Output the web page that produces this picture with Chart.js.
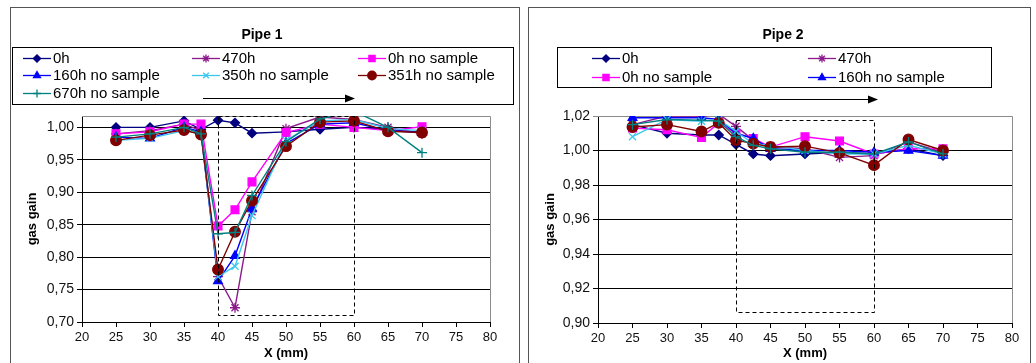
<!DOCTYPE html>
<html>
<head>
<meta charset="utf-8">
<script src="https://cdn.jsdelivr.net/npm/chart.js@4/dist/chart.umd.min.js"></script>
<style>
  body { margin: 0; background: #fff; width: 1036px; height: 363px; overflow: hidden; position: relative; }
  .panel { position: absolute; top: 7px; height: 380px; border: 1px solid #555; box-sizing: border-box; background: #fff; }
  #p1 { left: 10px; width: 510px; }
  #p2 { left: 528px; width: 503px; }
  canvas { position: absolute; left: 0; top: 0; }
</style>
</head>
<body>
<div class="panel" id="p1"><canvas id="c1" width="508" height="355"></canvas></div>
<div class="panel" id="p2"><canvas id="c2" width="501" height="355"></canvas></div>
<script>
// Measurement positions along the pipe (mm)
const positions = [25, 30, 35, 37.5, 40, 42.5, 45, 50, 55, 60, 65, 70];
const xTicks = [20, 25, 30, 35, 40, 45, 50, 55, 60, 65, 70, 75, 80];

const seriesNames = ['0h', '470h', '0h no sample', '160h no sample', '350h no sample', '351h no sample', '670h no sample'];

// Pipe 1 gas gain
const pipe1_0h    = [1.000, 1.000, 1.010, 0.997, 1.011, 1.007, 0.991, 0.993, 0.997, 1.000, 0.997, 0.992];
const pipe1_470h  = [0.990, 0.995, 1.005, 0.995, 0.770, 0.722, 0.870, 0.998, 1.016, 1.012, 1.000, 0.990];
const pipe1_0hNS  = [0.990, 0.993, 1.005, 1.005, 0.848, 0.873, 0.916, 0.992, 1.005, 1.000, 0.995, 1.001];
const pipe1_160hNS = [0.985, 0.983, 1.000, 0.993, 0.763, 0.802, 0.875, 0.975, 1.005, 1.007, 0.995, 0.992];
const pipe1_350hNS = [0.980, 0.983, 0.995, 0.990, 0.770, 0.786, 0.864, 0.980, 1.010, 1.012, 0.998, 0.995];
const pipe1_351hNS = [0.980, 0.988, 0.996, 0.989, 0.781, 0.839, 0.887, 0.971, 1.008, 1.010, 0.994, 0.992];
const pipe1_670hNS = [0.985, 0.990, 1.000, 0.990, 0.836, 0.838, 0.895, 0.978, 1.013, 1.025, 1.000, 0.961];

// Pipe 2 gas gain
const pipe2_0h    = [1.015, 1.010, 1.009, 1.009, 1.0035, 0.998, 0.997, 0.998, 0.999, 0.998, 1.001, 0.997];
const pipe2_470h  = [1.015, 1.020, 1.020, 1.021, 1.014, 1.006, 1.002, 1.001, 0.996, 0.997, 1.005, 0.999];
const pipe2_0hNS  = [1.013, 1.012, 1.0075, 1.016, 1.010, 1.007, 1.002, 1.008, 1.0055, 0.998, 1.001, 1.001];
const pipe2_160hNS = [1.019, 1.019, 1.019, 1.018, 1.010, 1.007, 1.001, 1.000, 1.000, 0.999, 1.000, 0.997];
const pipe2_350hNS = [1.008, 1.018, 1.017, 1.018, 1.011, 1.004, 1.003, 1.000, 0.998, 0.998, 1.003, 0.998];
const pipe2_351hNS = [1.0136, 1.015, 1.011, 1.016, 1.006, 1.004, 1.002, 1.0025, 0.9986, 0.9915, 1.0064, 1.000];
const pipe2_670hNS = [1.015, 1.018, 1.0175, 1.017, 1.008, 1.003, 1.001, 0.999, 0.999, 0.998, 1.005, 0.998];

// Inspected region [xFrom, xTo, yFrom, yTo]
const pipe1Region = [40, 60, 0.711, 1.0175];
const pipe2Region = [40, 60, 0.9064, 1.0177];

// Axis ranges [min, max, step]
const pipe1YRange = [0.70, 1.0175, 0.05];
const pipe2YRange = [0.90, 1.02, 0.02];

const styles = [
  { color: '#000080', pointStyle: 'rectRot', radius: 4.5 },
  { color: '#8b1a8b', pointStyle: 'star', radius: 5 },
  { color: '#ff00ff', pointStyle: 'rect', radius: 5.5 },
  { color: '#0000ff', pointStyle: 'triangle', radius: 5 },
  { color: '#3cc8ee', pointStyle: 'crossRot', radius: 5 },
  { color: '#800000', pointStyle: 'circle', radius: 5.3 },
  { color: '#008080', pointStyle: 'cross', radius: 5 }
];

const FONT = '"Liberation Sans", Arial, sans-serif';

function makeDatasets(seriesList) {
  return seriesList.map((vals, i) => ({
    label: seriesNames[i],
    data: positions.map((p, k) => ({ x: p, y: vals[k] })),
    borderColor: styles[i].color,
    backgroundColor: styles[i].color,
    pointBackgroundColor: styles[i].color,
    pointBorderColor: styles[i].color,
    pointStyle: styles[i].pointStyle,
    pointRadius: styles[i].radius,
    pointBorderWidth: 1.3,
    borderWidth: 1.4,
    tension: 0,
    order: seriesList.length - i
  }));
}

const panelDecor = {
  id: 'panelDecor',
  beforeDatasetsDraw(chart) {
    const { ctx, chartArea: a } = chart;
    ctx.save();
    ctx.strokeStyle = '#8c8c8c';
    ctx.lineWidth = 1;
    ctx.beginPath();
    ctx.moveTo(a.left, Math.round(a.top) + 0.5);
    ctx.lineTo(Math.round(a.right) + 0.5, Math.round(a.top) + 0.5);
    ctx.lineTo(Math.round(a.right) + 0.5, a.bottom);
    ctx.stroke();
    ctx.restore();
  },
  afterDatasetsDraw(chart, args, opts) {
    const { ctx, scales: { x, y } } = chart;
    const r = opts.region;
    const x0 = Math.round(x.getPixelForValue(r[0])) + 0.5;
    const x1 = Math.round(x.getPixelForValue(r[1])) + 0.5;
    const y0 = Math.round(y.getPixelForValue(r[2])) + 0.5;
    const y1 = Math.round(y.getPixelForValue(r[3])) + 0.5;
    ctx.save();
    ctx.setLineDash([4, 3]);
    ctx.strokeStyle = '#000';
    ctx.lineWidth = 1;
    ctx.strokeRect(x0, y1, x1 - x0, y0 - y1);
    ctx.restore();
  },
  afterDraw(chart, args, opts) {
    const ctx = chart.ctx;
    ctx.save();
    // chart title
    ctx.fillStyle = '#000';
    ctx.font = 'bold 14px ' + FONT;
    ctx.textAlign = 'center';
    ctx.textBaseline = 'middle';
    ctx.fillText(opts.title, opts.titleX, opts.titleY);

    // legend frame
    const b = opts.legendBox;
    ctx.strokeStyle = '#000';
    ctx.lineWidth = 1;
    ctx.strokeRect(b[0] + 0.5, b[1] + 0.5, b[2] - b[0], b[3] - b[1]);

    // legend entries
    ctx.font = '15px ' + FONT;
    ctx.textAlign = 'left';
    const helpers = Chart.helpers;
    opts.legendItems.forEach((idx, n) => {
      const col = n % opts.legendCols.length;
      const row = Math.floor(n / opts.legendCols.length);
      const lx = opts.legendCols[col];
      const ly = opts.legendRows[row];
      const st = styles[idx];
      ctx.strokeStyle = st.color;
      ctx.fillStyle = st.color;
      ctx.lineWidth = 1.3;
      ctx.beginPath();
      ctx.moveTo(lx, ly + 0.5);
      ctx.lineTo(lx + 28, ly + 0.5);
      ctx.stroke();
      if (helpers && helpers.drawPoint) {
        helpers.drawPoint(ctx, { pointStyle: st.pointStyle, radius: st.radius * 0.8, borderWidth: 1.2, rotation: 0 }, lx + 14, ly + 0.5);
      }
      ctx.fillStyle = '#000';
      ctx.fillText(seriesNames[idx], lx + 30, ly + 1);
    });

    // direction arrow
    const ar = opts.arrow;
    ctx.strokeStyle = '#000';
    ctx.fillStyle = '#000';
    ctx.lineWidth = 1.2;
    ctx.beginPath();
    ctx.moveTo(ar[0], ar[2] + 0.5);
    ctx.lineTo(ar[1] - 8, ar[2] + 0.5);
    ctx.stroke();
    ctx.beginPath();
    ctx.moveTo(ar[1], ar[2] + 0.5);
    ctx.lineTo(ar[1] - 10, ar[2] - 3.5);
    ctx.lineTo(ar[1] - 10, ar[2] + 4.5);
    ctx.closePath();
    ctx.fill();
    ctx.restore();
  }
};

function makeChart(canvasId, seriesList, yRange, decor, layoutRight, xHeight, yWidth) {
  const [yMin, yMax, yStep] = yRange;
  return new Chart(document.getElementById(canvasId), {
    type: 'line',
    data: { datasets: makeDatasets(seriesList) },
    plugins: [panelDecor],
    options: {
      responsive: false,
      animation: false,
      events: [],
      layout: { padding: { top: 108, right: layoutRight, left: 0, bottom: 0 } },
      plugins: {
        legend: { display: false },
        title: { display: false },
        tooltip: { enabled: false },
        panelDecor: decor
      },
      scales: {
        x: {
          type: 'linear',
          min: xTicks[0],
          max: xTicks[xTicks.length - 1],
          afterBuildTicks: s => { s.ticks = xTicks.map(v => ({ value: v })); },
          afterFit: s => { s.height = xHeight; },
          grid: { drawOnChartArea: false, drawTicks: true, tickLength: 5, color: '#000', lineWidth: 1 },
          border: { display: true, color: '#000', width: 1 },
          ticks: { color: '#111', font: { size: 13, family: FONT }, padding: 3, maxRotation: 0, autoSkip: false },
          title: { display: true, text: 'X (mm)', color: '#000', font: { size: 13, weight: 'bold', family: FONT }, padding: { top: 0, bottom: 2 } }
        },
        y: {
          type: 'linear',
          min: yMin,
          max: yMax,
          afterBuildTicks: s => {
            const ticks = [];
            for (let v = yMin; v <= yMax + 1e-9; v += yStep) ticks.push({ value: Math.round(v * 1000) / 1000 });
            s.ticks = ticks;
          },
          afterFit: s => { s.width = yWidth; },
          grid: {
            drawTicks: true,
            tickLength: 5,
            lineWidth: 1,
            color: c => (c.tick && Math.abs(c.tick.value - yMax) < 1e-6) ? '#8c8c8c' : '#000'
          },
          border: { display: true, color: '#000', width: 1 },
          ticks: {
            color: '#111',
            font: { size: 14, family: FONT },
            padding: 3,
            callback: v => v.toFixed(2).replace('.', ',')
          },
          title: { display: true, text: 'gas gain', color: '#000', font: { size: 13, weight: 'bold', family: FONT }, padding: { top: 14, bottom: 0 } }
        }
      }
    }
  });
}

makeChart('c1',
  [pipe1_0h, pipe1_470h, pipe1_0hNS, pipe1_160hNS, pipe1_350hNS, pipe1_351hNS, pipe1_670hNS],
  pipe1YRange,
  {
    title: 'Pipe 1', titleX: 251, titleY: 27,
    legendBox: [1, 39, 502, 96],
    legendCols: [12, 181, 347],
    legendRows: [50, 67, 85],
    legendItems: [0, 1, 2, 3, 4, 5, 6],
    arrow: [192, 344, 90],
    region: pipe1Region
  },
  29, 41, 71);

makeChart('c2',
  [pipe2_0h, pipe2_470h, pipe2_0hNS, pipe2_160hNS, pipe2_350hNS, pipe2_351hNS, pipe2_670hNS],
  pipe2YRange,
  {
    title: 'Pipe 2', titleX: 254, titleY: 27,
    legendBox: [28, 39, 462, 79],
    legendCols: [63, 279],
    legendRows: [50, 69],
    legendItems: [0, 1, 2, 3],
    arrow: [199, 349, 91],
    region: pipe2Region
  },
  18, 40, 69);
</script>
</body>
</html>
